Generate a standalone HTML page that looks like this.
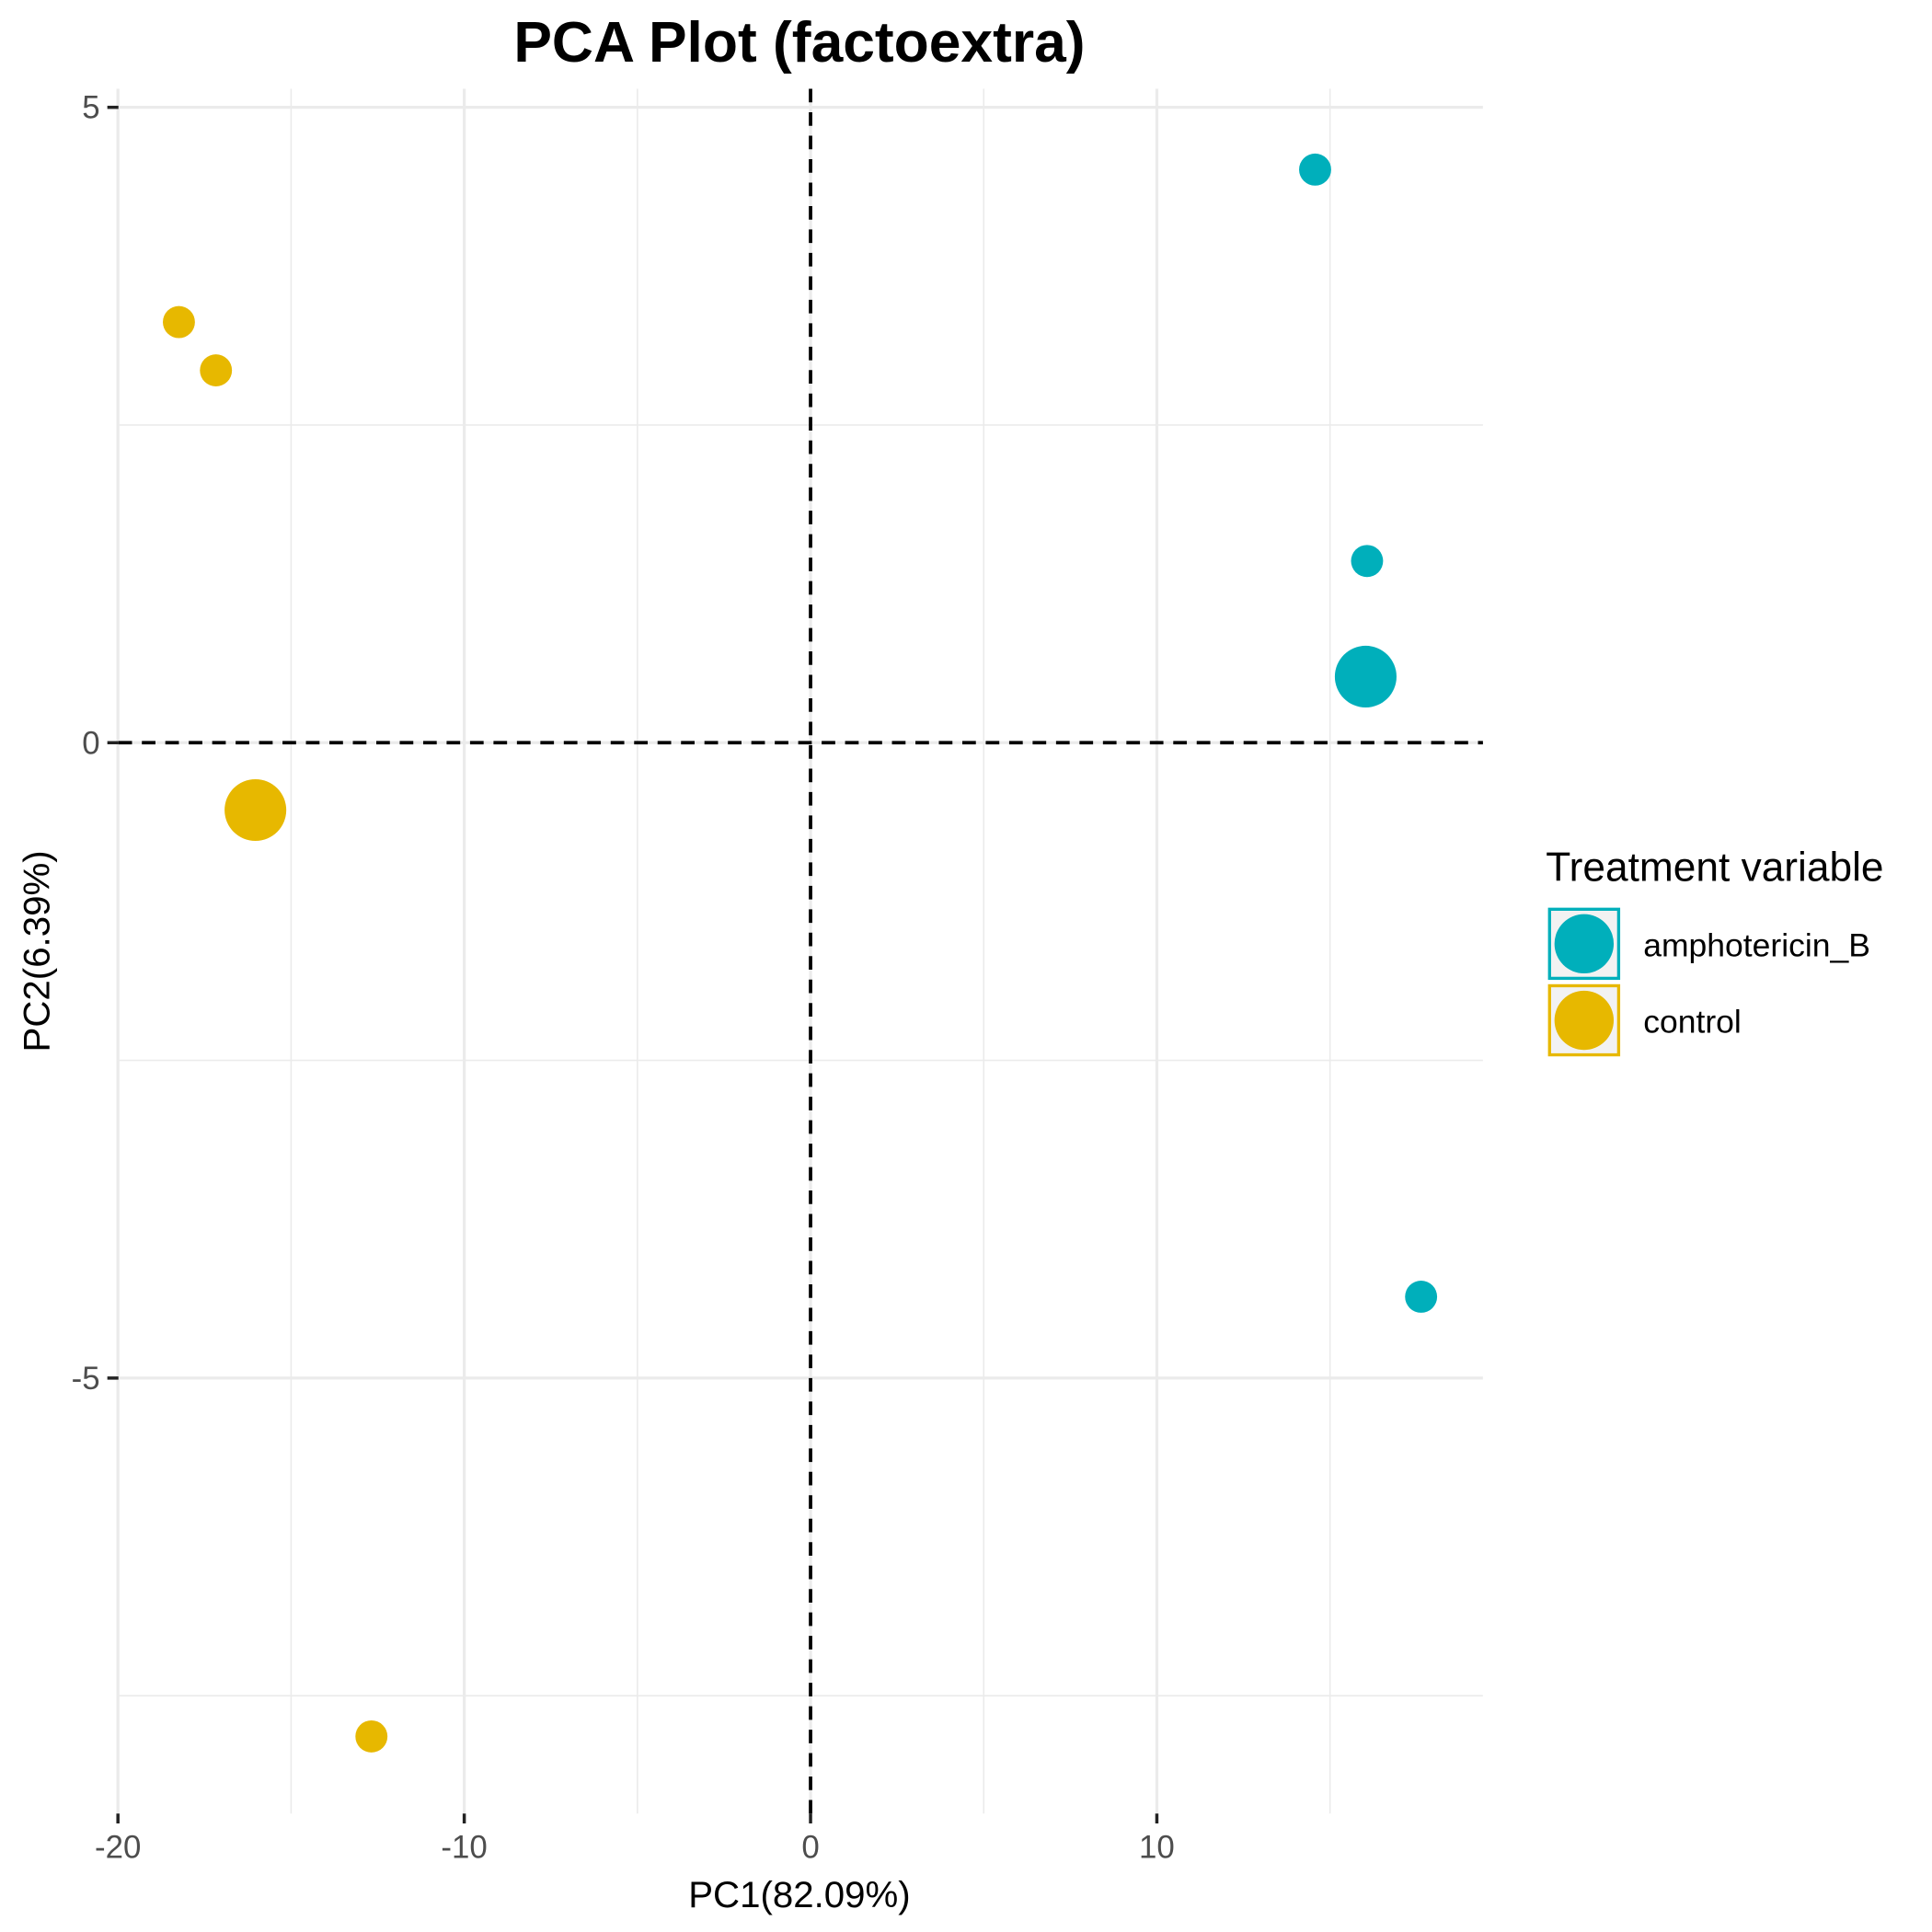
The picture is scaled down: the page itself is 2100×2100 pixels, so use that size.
<!DOCTYPE html>
<html><head><meta charset="utf-8"><style>
html,body{margin:0;padding:0;background:#fff}
svg{display:block;font-family:"Liberation Sans",sans-serif}
</style></head><body>
<svg id="chart" width="2100" height="2100" viewBox="0 0 1566 1566" xmlns="http://www.w3.org/2000/svg">
<rect width="1566" height="1566" fill="#fff"/>
<text x="648" y="50" text-anchor="middle" font-size="46.5" font-weight="bold">PCA Plot (factoextra)</text>
<g id="grid"></g>
<g id="axes"></g>
<g id="points"></g>
<text x="648" y="1546" text-anchor="middle" font-size="30">PC1(82.09%)</text>
<text transform="translate(40,771) rotate(-90)" text-anchor="middle" font-size="30">PC2(6.39%)</text>
<g>
<text x="1253" y="714" font-size="33">Treatment variable</text>
<g>
<rect x="1256" y="737" width="56" height="56" fill="#f2f2f2" stroke="#00AFBB" stroke-width="2.5"/>
<circle cx="1284" cy="765" r="24" fill="#00AFBB"/>
<text x="1332" y="775" font-size="26.5">amphotericin_B</text>
</g>
<g>
<rect x="1256" y="799" width="56" height="56" fill="#f2f2f2" stroke="#E7B800" stroke-width="2.5"/>
<circle cx="1284" cy="827" r="24" fill="#E7B800"/>
<text x="1332" y="837" font-size="26.5">control</text>
</g>
</g>
</svg>
<script>
const groups = ["amphotericin_B","amphotericin_B","amphotericin_B","control","control","control"];
const pc1 = [14.57, 16.07, 17.63, -18.24, -17.17, -12.68];
const pc2 = [4.51, 1.43, -4.36, 3.31, 2.93, -7.82];
const meanGroups = ["amphotericin_B","control"];
const meanPc1 = [16.03, -16.03];
const meanPc2 = [0.52, -0.53];
const xTicks = [-20,-10,0,10];
const yTicks = [5,0,-5];
const xMinor = [-15,-5,5,15];
const yMinor = [2.5,-2.5,-7.5];
const colors = {amphotericin_B:"#00AFBB", control:"#E7B800"};

const L=96,R=1202,T=72,B=1470;
const sx=v=>657+v*28.07;
const sy=v=>602-v*103;
const NS="http://www.w3.org/2000/svg";
function mk(tag,attrs,parent){const e=document.createElementNS(NS,tag);for(const k in attrs)e.setAttribute(k,attrs[k]);parent.appendChild(e);return e;}
const grid=document.getElementById('grid'),axes=document.getElementById('axes'),pts=document.getElementById('points');
xMinor.forEach(v=>{const l=mk('line',{x1:sx(v),x2:sx(v),y1:T,y2:B,stroke:'#ebebeb','stroke-width':1.2},grid);

});
yMinor.forEach(v=>{const l=mk('line',{x1:L,x2:R,y1:sy(v),y2:sy(v),stroke:'#ebebeb','stroke-width':1.2},grid);

});
xTicks.forEach(v=>{const l=mk('line',{x1:sx(v),x2:sx(v),y1:T,y2:B,stroke:'#ebebeb','stroke-width':2.4},grid);


const t=mk('line',{x1:sx(v),x2:sx(v),y1:B,y2:B+8,stroke:'#222','stroke-width':2.6},axes);


const tx=mk('text',{x:sx(v),y:B+36,'text-anchor':'middle','font-size':26,fill:'#4d4d4d'},axes);tx.textContent=v;

});
yTicks.forEach(v=>{const l=mk('line',{x1:L,x2:R,y1:sy(v),y2:sy(v),stroke:'#ebebeb','stroke-width':2.4},grid);


const t=mk('line',{x1:L-9,x2:L,y1:sy(v),y2:sy(v),stroke:'#222','stroke-width':2.6},axes);


const tx=mk('text',{x:L-15,y:sy(v)+9,'text-anchor':'end','font-size':26,fill:'#4d4d4d'},axes);tx.textContent=v;

});
const h=mk('line',{x1:L,x2:R,y1:sy(0),y2:sy(0),stroke:'#000','stroke-width':2.8,'stroke-dasharray':'11,8'},axes);


const vl=mk('line',{x1:sx(0),x2:sx(0),y1:T,y2:B,stroke:'#000','stroke-width':2.8,'stroke-dasharray':'11,8'},axes);


pc1.forEach((v,i)=>{const c=mk('circle',{cx:sx(v),cy:sy(pc2[i]),r:13,fill:colors[groups[i]]},pts);

});
meanPc1.forEach((v,i)=>{const c=mk('circle',{cx:sx(v),cy:sy(meanPc2[i]),r:25,fill:colors[meanGroups[i]]},pts);

});
</script>
</body></html>
